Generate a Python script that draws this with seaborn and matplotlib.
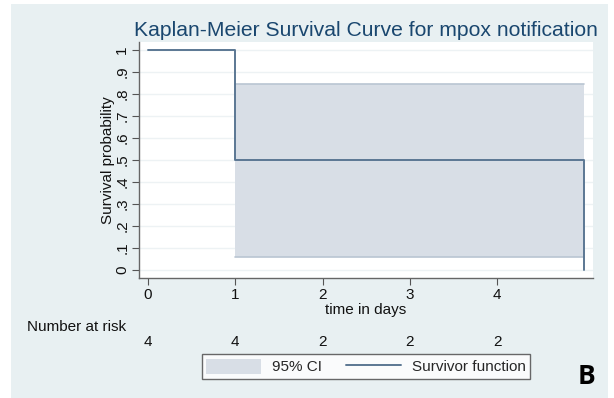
import matplotlib
matplotlib.use("Agg")
import matplotlib.pyplot as plt
import matplotlib.transforms as mtransforms
from matplotlib.patches import Patch
from matplotlib.lines import Line2D
import seaborn as sns
import pandas as pd

# ---- data ----
km_time = [0, 1, 5]
km_surv = [1.0, 0.5, 0.0]
ci_time = [1, 5]
ci_lower = [0.058, 0.058]
ci_upper = [0.845, 0.845]
risk_times = [0, 1, 2, 3, 4]
risk_counts = [4, 4, 2, 2, 2]
y_ticks = [0, 0.1, 0.2, 0.3, 0.4, 0.5, 0.6, 0.7, 0.8, 0.9, 1.0]
y_tick_labels = ["0", ".1", ".2", ".3", ".4", ".5", ".6", ".7", ".8", ".9", "1"]
x_ticks = [0, 1, 2, 3, 4]

sns.set_theme(style="white")
plt.rcParams['font.family'] = ['Liberation Sans', 'DejaVu Sans']

W, H = 614, 398
FS = 11
fig = plt.figure(figsize=(W / 100, H / 100), dpi=100, facecolor="white")

# outer light panel (background axes)
bg = fig.add_axes([11 / W, 0, (608 - 11) / W, 1 - 4 / H], zorder=-5)
bg.set_facecolor("#e8f0f2")
bg.set_xticks([])
bg.set_yticks([])
for s in bg.spines.values():
    s.set_visible(False)

ax = fig.add_axes([139 / W, 1 - 278 / H, (593 - 139) / W, (278 - 42) / H], zorder=1)
ax.set_facecolor("white")

line_col = "#5b7793"
fill_col = "#d8dee6"

df_km = pd.DataFrame({"time": km_time, "surv": km_surv})
ax.fill_between(ci_time, ci_lower, ci_upper, step="post", facecolor=fill_col,
                edgecolor="none", zorder=2)
ax.plot(ci_time, ci_upper, color="#b9c5d2", lw=1.2, zorder=2.5)
ax.plot(ci_time, ci_lower, color="#b9c5d2", lw=1.2, zorder=2.5)
sns.lineplot(data=df_km, x="time", y="surv", drawstyle="steps-post",
             color=line_col, lw=1.4, ax=ax, zorder=3, legend=False)

ax.set_xlim(-0.103, 5.10)
ax.set_ylim(-0.036, 1.036)
ax.set_yticks(y_ticks)
ax.set_yticklabels(y_tick_labels, rotation=90, va="center", fontsize=FS)
ax.set_xticks(x_ticks)
ax.set_xticklabels([str(t) for t in x_ticks], fontsize=FS)
for yv in y_ticks:
    ax.axhline(yv, color="#edf2f4", lw=1.0, zorder=1)

ax.tick_params(axis="both", which="major", direction="out", length=5,
               width=0.8, color="#555555", labelcolor="#111111", pad=2,
               left=True, bottom=True)
for s in ["top", "right"]:
    ax.spines[s].set_visible(False)
for s in ["left", "bottom"]:
    ax.spines[s].set_color("#666666")
    ax.spines[s].set_linewidth(1.0)

ax.set_xlabel("time in days", fontsize=FS, color="#111111", labelpad=1)
ax.set_ylabel("Survival probability", fontsize=FS, color="#111111", labelpad=0)

fig.text(366 / W, 1 - 30 / H, "Kaplan-Meier Survival Curve for mpox notification",
         ha="center", va="center", fontsize=15.2, color="#1a476f")

# number at risk
fig.text(27 / W, 1 - 327 / H, "Number at risk", ha="left", va="center",
         fontsize=FS, color="#111111")
trans = mtransforms.blended_transform_factory(ax.transData, fig.transFigure)
for t, n in zip(risk_times, risk_counts):
    ax.text(t, 1 - 342 / H, str(n), transform=trans, ha="center", va="center",
            fontsize=FS, color="#111111", clip_on=False)

handles = [Patch(facecolor=fill_col, edgecolor="none"),
           Line2D([0], [0], color=line_col, lw=1.4)]
leg = fig.legend(handles, ["95% CI", "Survivor function"], ncol=2,
                 loc="center", bbox_to_anchor=(366 / W, 1 - 366.5 / H),
                 fontsize=FS, frameon=True, fancybox=False, handlelength=3.6,
                 handleheight=1.2, columnspacing=1.6, borderpad=0.3,
                 handletextpad=0.7)
leg.get_frame().set_edgecolor("#444444")
leg.get_frame().set_linewidth(1.0)
leg.get_frame().set_facecolor("white")

fig.text(587 / W, 1 - 376 / H, "B", ha="center", va="center", fontsize=19,
         fontweight="bold", color="black", family=["Open Sans", "DejaVu Sans"])

fig.savefig("out.png", dpi=100, facecolor="white")
